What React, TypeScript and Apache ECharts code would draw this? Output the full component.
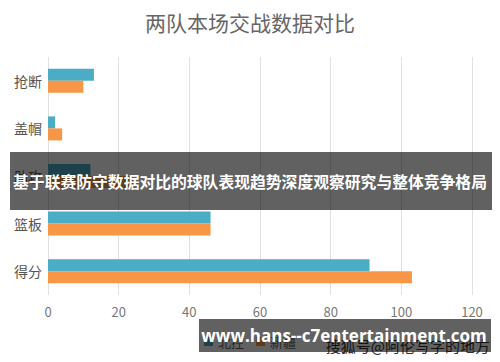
import React, { useEffect, useRef } from "react";
import * as echarts from "echarts";

const categories = ["抢断", "盖帽", "助攻", "篮板", "得分"];
const seriesNames = ["北控", "新疆"];
const beikong = [13, 2, 12, 46, 91];
const xinjiang = [10, 4, 24, 46, 103];
const xTicks = [0, 20, 40, 60, 80, 100, 120];

const FONT = "'Noto Sans CJK SC', 'Noto Sans', sans-serif";

export default function App() {
  const ref = useRef<HTMLDivElement>(null);
  useEffect(() => {
    const chart = echarts.init(ref.current!, undefined, { renderer: "svg" });
    chart.setOption({
      animation: false,
      backgroundColor: "#ffffff",
      textStyle: { fontFamily: FONT },
      title: {
        text: "两队本场交战数据对比",
        left: "center",
        top: 6,
        textStyle: { fontSize: 21, fontWeight: "normal", color: "#666666", fontFamily: FONT },
      },
      legend: {
        bottom: 9,
        left: "center",
        icon: "rect",
        itemWidth: 9,
        itemHeight: 9,
        itemGap: 12,
        textStyle: { fontSize: 13, color: "#666666", fontFamily: FONT },
        data: seriesNames,
      },
      grid: { left: 48, right: 28, top: 57, bottom: 67, containLabel: false },
      xAxis: {
        type: "value",
        min: xTicks[0],
        max: xTicks[xTicks.length - 1],
        interval: 20,
        axisLine: { show: false },
        axisTick: { show: false },
        axisLabel: { fontSize: 13, color: "#777777", margin: 10, fontFamily: FONT },
        splitLine: { show: true, lineStyle: { color: "#e0e0e0", width: 1 } },
      },
      yAxis: {
        type: "category",
        inverse: true,
        data: categories,
        axisLine: { show: false },
        axisTick: { show: false },
        axisLabel: { fontSize: 14, color: "#555555", margin: 6, fontFamily: FONT },
      },
      series: [
        {
          name: seriesNames[0],
          type: "bar",
          data: beikong,
          barWidth: 12,
          barGap: "0%",
          itemStyle: { color: "#4BACC6" },
        },
        {
          name: seriesNames[1],
          type: "bar",
          data: xinjiang,
          barWidth: 12,
          barGap: "0%",
          itemStyle: { color: "#F79646" },
        },
      ],
      graphic: [
        {
          type: "text",
          right: 10,
          top: 338,
          z: 100,
          style: {
            text: "搜狐号@阿伦写字的地方",
            fontSize: 15,
            fill: "#333333",
            fontFamily: FONT,
          },
        },
        {
          type: "rect",
          z: 110,
          shape: { x: 10, y: 152, width: 482, height: 58 },
          style: { fill: "rgba(0,0,0,0.62)" },
        },
        {
          type: "text",
          z: 120,
          x: 250,
          y: 181,
          style: {
            text: "基于联赛防守数据对比的球队表现趋势深度观察研究与整体竞争格局",
            fontSize: 15.8,
            fontWeight: "bold",
            fill: "#ffffff",
            align: "center",
            verticalAlign: "middle",
            fontFamily: FONT,
          },
        },
        {
          type: "rect",
          z: 110,
          shape: { x: 199, y: 319, width: 292, height: 33 },
          style: { fill: "rgba(0,0,0,0.62)" },
        },
        {
          type: "text",
          z: 120,
          x: 344,
          y: 335,
          style: {
            text: "www.hans--c7entertainment.com",
            fontSize: 17,
            fontWeight: "bold",
            fill: "#ffffff",
            align: "center",
            verticalAlign: "middle",
            fontFamily: "'Open Sans', 'DejaVu Sans', sans-serif",
          },
        },
      ],
    });
    return () => chart.dispose();
  }, []);
  return <div ref={ref} style={{ width: 500, height: 362, position: "absolute", left: 0, top: 0 }} />;
}
